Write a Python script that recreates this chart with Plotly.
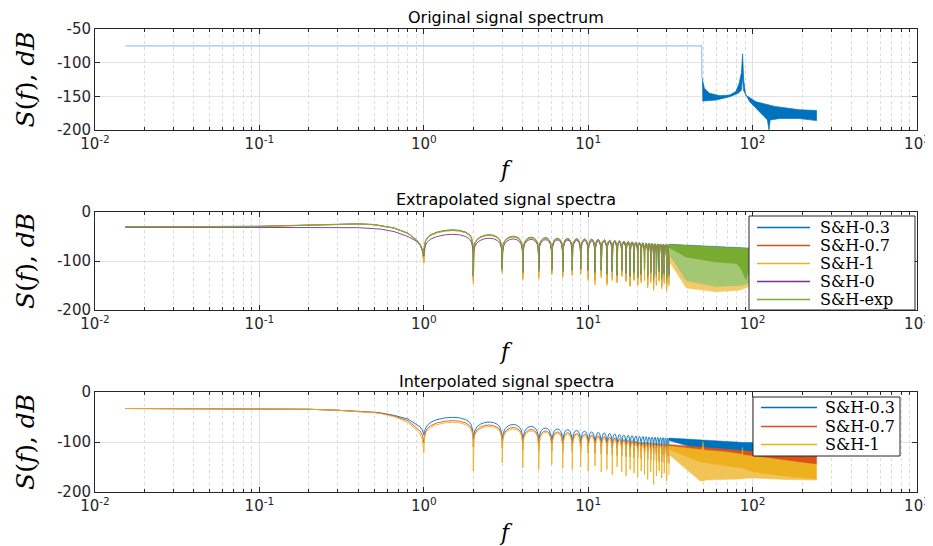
import plotly.graph_objects as go

# ---------------- axis ticks ----------------
decades = [0.01, 0.1, 1, 10, 100, 1000]
decade_labels = ["10<sup>-2</sup>", "10<sup>-1</sup>", "10<sup>0</sup>",
                 "10<sup>1</sup>", "10<sup>2</sup>", "10<sup>3</sup>"]
minor_vals = [m * d for d in decades[:-1] for m in range(2, 10)]
y1_ticks = [-200, -150, -100, -50]
y23_ticks = [-200, -100, 0]

# ---------------- panel 1 : original spectrum ----------------
orig_flat_f = [0.0153, 49.0, 49.2]
orig_flat_db = [-75, -75, -123]
orig_up_f = [49.3, 50.9, 54.6, 63.3, 72.7, 79.0, 82.8, 85.5, 86.9, 88.3, 90.6, 104.9, 136.5, 193.0, 245.0]
orig_up_db = [-123, -138, -145.5, -149, -148, -143, -131, -115, -87, -126, -148, -158, -165, -170, -171]
orig_lo_f = [49.5, 60.1, 72.7, 81.6, 85.5, 86.9, 88.0, 96.0, 110.7, 123.0, 125.8, 128.0, 146.0, 193.0, 245.0]
orig_lo_db = [-157, -155.5, -150.5, -145.5, -141, -120, -141, -158, -173, -185, -200, -185, -183, -183, -186]

# ---------------- lobe shape (offset from lobe peak, read from first lobes) ----------------
lobe_frac = [0.004, 0.01, 0.025, 0.05, 0.1, 0.2, 0.35, 0.5, 0.65, 0.8, 0.9, 0.95, 0.975, 0.99, 0.996]
lobe_drop = [-38, -30, -22, -16, -10, -4.6, -1, 0, -1, -4.6, -10, -16, -22, -30, -38]
null_f = list(range(1, 32))  # spectral nulls at integer frequencies

# ---------------- panel 2 : extrapolated spectra ----------------
main_f = [0.0153, 0.05, 0.1, 0.2, 0.3, 0.4, 0.5, 0.55, 0.66, 0.8, 0.9, 0.95, 0.98]

ext_main_sh03 = [-30.5, -30, -29, -26.5, -24.5, -24, -25.5, -27.5, -32.5, -43, -56.5, -65.5, -76]
ext_main_sh07 = [-31, -30.5, -29.5, -27, -25, -24.5, -26, -28, -33, -43.5, -57, -66, -77]
ext_main_sh1 = [-31, -30.5, -29.5, -27, -25, -24.5, -26, -28, -33, -43.5, -57.5, -67, -79]
ext_main_sh0 = [-31, -31, -31, -31, -31.5, -32, -34, -35, -40, -50, -59, -67, -78]
ext_main_exp = [-31, -30.5, -29.5, -27, -25, -24.5, -26, -28, -33, -43.5, -57, -66, -77]

ext_peak_sh03 = [-36.5, -46.5, -49.5, -51.5, -52.5, -53.5, -54, -54.5, -55, -55.5, -56, -56.5, -57.5, -58, -58.5,
                 -59.5, -60, -60.5, -61.5, -62, -62.5, -63, -63.5, -64, -64.5, -64.8, -65.1, -65.5, -65.8, -66.1]
ext_peak_sh07 = [-37.5, -47.5, -50.5, -52.5, -53.5, -54.5, -55, -55.5, -56, -56.5, -57, -57.5, -58.5, -59, -59.5,
                 -60.5, -61, -61.5, -62.5, -63, -63.5, -64, -64.5, -65, -65.5, -65.8, -66.1, -66.5, -66.8, -67.1]
ext_peak_sh1 = [-38, -48, -51, -53, -54, -55, -55.5, -56, -56.5, -57, -57.5, -58, -59, -59.5, -60,
                -61, -61.5, -62, -63, -63.5, -64, -64.5, -65, -65.5, -66, -66.3, -66.6, -67, -67.3, -67.6]
ext_peak_sh0 = [-45.5, -53.5, -55, -56, -56.5, -57, -57.5, -58, -58.5, -59, -59.5, -60, -60.5, -61, -61.5,
                -62, -62.5, -63, -63.5, -64, -64.5, -65, -65.5, -66, -66.5, -66.8, -67.1, -67.5, -67.8, -68.1]
ext_peak_exp = [-37, -47, -50, -52, -53, -54, -54.5, -55, -55.5, -56, -56.5, -57, -58, -58.5, -59,
                -60, -60.5, -61, -62, -62.5, -63, -63.5, -64, -64.5, -65, -65.3, -65.6, -66, -66.3, -66.6]

ext_null_sh03 = [-86, -128, -115, -120, -118, -117, -120, -118, -115, -120, -122, -118, -125, -120, -128, -120,
                 -124, -130, -122, -132, -126, -118, -128, -122, -132, -125, -120, -130, -124, -135, -126]
ext_null_sh07 = [-103, -140, -122, -135, -133, -126, -130, -128, -125, -135, -140, -130, -145, -135, -142, -130,
                 -140, -150, -138, -148, -140, -135, -150, -140, -155, -145, -138, -152, -142, -158, -148]
ext_null_sh1 = [-104, -147, -125, -139, -137, -128, -134, -130, -128, -140, -149, -135, -150, -140, -145, -132,
                -142, -152, -140, -150, -145, -140, -155, -145, -160, -150, -142, -157, -147, -162, -152]
ext_null_sh0 = [-90, -130, -116, -122, -120, -118, -121, -119, -116, -119, -123, -119, -126, -121, -129, -119,
                -125, -131, -123, -133, -127, -119, -130, -123, -134, -127, -121, -133, -125, -137, -129]
ext_null_exp = [-88, -133, -117, -125, -122, -120, -122, -120, -114, -118, -125, -120, -128, -122, -130, -118,
                -126, -132, -124, -135, -128, -120, -135, -125, -140, -130, -122, -138, -128, -145, -132]

ext_band_f = [31, 39.5, 60, 80, 86, 91, 95, 100]
ext_top_sh03 = [-65.8, -67.5, -70, -72, -72.5, -73, -73.5, -74]
ext_bot_sh03 = [-72, -88, -100, -103, -115, -135, -115, -105]
ext_top_sh07 = [-67.3, -69, -71.5, -73.5, -74, -74.5, -75, -75.5]
ext_bot_sh07 = [-72, -88, -100, -103, -115, -135, -115, -105]
ext_tip_sh07 = [-95, -150, -158, -156, -155, -150, -148, -145]
ext_top_sh1 = [-67.8, -69.5, -72, -74, -74.5, -75, -75.5, -76]
ext_bot_sh1 = [-72, -88, -100, -103, -115, -135, -115, -105]
ext_tip_sh1 = [-100, -155, -163, -160, -158, -155, -152, -148]
ext_top_sh0 = [-68.3, -70, -72.5, -74.5, -75, -75.5, -76, -76.5]
ext_bot_sh0 = [-74, -86, -96, -100, -112, -130, -112, -103]
ext_tip_sh0 = [-85, -130, -140, -140, -140, -138, -136, -135]
ext_top_exp = [-66.8, -68.5, -71, -73, -73.5, -74, -74.5, -75]
ext_bot_exp = [-72, -92, -102, -105, -118, -138, -118, -108]
ext_tip_exp = [-85, -140, -152, -150, -150, -148, -145, -142]

# ---------------- panel 3 : interpolated spectra ----------------
int_main_sh03 = [-33, -33, -33.5, -34.5, -36.5, -38, -40.5, -42, -46.7, -54, -64, -70, -76]
int_main_sh07 = [-33, -33, -33.5, -34.5, -36.5, -38.5, -41, -42.5, -48, -57.3, -70.7, -78, -86]
int_main_sh1 = [-33, -33, -33.5, -34.5, -36.5, -39, -41.5, -43.5, -49.5, -60.7, -75.3, -84, -95]

int_peak_sh03 = [-50.7, -60, -65, -69, -72, -74, -75.5, -77, -78.5, -80, -81, -82, -83, -84, -85,
                 -86, -86.5, -87.3, -88, -88.7, -89, -89.4, -89.8, -90.2, -90.5, -90.8, -91.1, -91.4, -91.7, -92]
int_peak_sh07 = [-57.3, -66, -71, -75, -78, -80, -81.5, -83, -84.5, -86, -87.5, -89, -90.5, -92, -93.5,
                 -95, -96, -97, -98.5, -100, -100.5, -101, -101.5, -102, -102.5, -103, -103.5, -104, -104.5, -105]
int_peak_sh1 = [-60.7, -69, -74, -78, -81, -83, -85, -86.5, -88, -89.5, -91, -92.5, -94, -95.5, -97,
                -98.5, -100, -101, -102.5, -104, -104.4, -104.8, -105.2, -105.6, -106, -106.4, -106.8, -107.2,
                -107.6, -108]

int_null_sh03 = [-86, -95, -98, -100, -102, -103, -104, -105, -106, -107, -108, -109, -110, -111, -112, -113,
                 -114, -115, -116, -117, -118, -119, -120, -121, -122, -123, -124, -125, -126, -127, -128]
int_null_sh07 = [-102, -110, -112, -115, -117, -118, -119, -120, -121, -122, -123, -124, -125, -126, -127, -128,
                 -129, -130, -131, -132, -133, -134, -135, -136, -137, -138, -139, -140, -141, -142, -143]
int_null_sh1 = [-122, -158, -142, -152, -155, -145, -153, -155, -150, -158, -148, -160, -155, -165, -150, -160,
                -168, -155, -162, -170, -158, -165, -175, -160, -185, -168, -158, -172, -162, -178, -165]

int_band_f = [31, 48, 49.3, 49.9, 50.5, 52, 70, 84, 86.1, 86.7, 87.3, 89, 100, 160, 245]
int_top_sh03 = [-92, -96, -96.3, -96.5, -96.7, -97, -99, -100, -100.3, -100.5, -100.7, -101, -101, -103, -105]
int_bot_sh03 = [-97, -115, -115, -115, -115, -116, -119, -122, -122, -122, -122, -123, -124, -127, -130]
int_top_sh07 = [-105, -110, -110.3, -110.5, -110.7, -111, -114, -117, -117.3, -117.5, -117.7, -118, -119, -122, -125]
int_bot_sh07 = [-110, -125, -125, -125, -125, -126, -130, -133, -133, -133, -133, -134, -138, -142, -145]
int_top_sh1 = [-108, -115, -115.5, -99, -116, -116.5, -120, -124, -124.5, -110.7, -125, -126, -128, -137, -145]
int_bot_sh1 = [-115, -140, -140, -140, -140, -141, -148, -152, -152, -152, -152, -154, -160, -169, -175]
int_tip_sh1 = [-125, -178, -178, -178, -178, -176, -175, -174, -174, -174, -174, -173, -172, -175, -176]

# ---------------- style ----------------
C_BLUE, C_ORANGE, C_YELLOW, C_PURPLE, C_GREEN = "#0072BD", "#D95319", "#EDB120", "#7E2F8E", "#77AC30"
AXC = "#262626"
TICK_FONT = dict(family="DejaVu Sans", size=15, color=AXC)
SERIF = "DejaVu Serif"
OFF = 8                 # the page puts the figure 8 px in from the window's top-left corner
W, H = 933 - OFF, 546 - OFF
X0, X1 = 95, 917        # window pixel columns of 10^-2 and 10^3
panels = [(29, 130), (212, 310), (392, 492)]   # window pixel rows of each axes box


def px(X):
    return (X - OFF) / W


def py(Y):
    return 1 - (Y - OFF) / H


def pale(hexc, a):
    h = hexc.lstrip("#")
    rgb = [int(h[i:i + 2], 16) for i in (0, 2, 4)]
    return "rgb(%d,%d,%d)" % tuple(round(255 - a * (255 - c)) for c in rgb)


def lobe_curve(m_f, m_db, n_db, p_db):
    xs, ys = list(m_f), list(m_db)
    for k, pk in enumerate(p_db):
        f0 = null_f[k]
        xs.append(f0)
        ys.append(n_db[k])
        for fr, dr in zip(lobe_frac, lobe_drop):
            floor = n_db[k] if fr < 0.5 else n_db[k + 1]
            xs.append(f0 + fr)
            ys.append(max(pk + dr, floor))
    xs.append(null_f[len(p_db)])
    ys.append(n_db[len(p_db)])
    return xs, ys


fig = go.Figure()


def add_band(f, top, bot, color, xa, ya):
    fig.add_trace(go.Scatter(
        x=list(f) + list(f)[::-1], y=list(top) + list(bot)[::-1],
        mode="lines", fill="toself", fillcolor=color,
        line=dict(color=color, width=0.5),
        showlegend=False, hoverinfo="skip", xaxis=xa, yaxis=ya))


def add_series(name, color, m_f, m_db, n_db, p_db, band_f, top, bot, tip, alpha, xa, ya):
    if tip is not None:
        add_band(band_f, bot, tip, pale(color, alpha), xa, ya)
    xs, ys = lobe_curve(m_f, m_db, n_db, p_db)
    fig.add_trace(go.Scatter(x=xs, y=ys, mode="lines", name=name,
                             line=dict(color=color, width=0.9),
                             showlegend=False, xaxis=xa, yaxis=ya))
    add_band(band_f, top, bot, color, xa, ya)


# panel 1
fig.add_trace(go.Scatter(x=orig_flat_f, y=orig_flat_db, mode="lines", name="original",
                         line=dict(color="#9cc7e8", width=1.3), showlegend=False,
                         xaxis="x", yaxis="y"))
fig.add_trace(go.Scatter(x=orig_up_f + orig_lo_f[::-1], y=orig_up_db + orig_lo_db[::-1],
                         mode="lines", fill="toself", fillcolor=C_BLUE,
                         line=dict(color=C_BLUE, width=0.7), showlegend=False,
                         xaxis="x", yaxis="y"))

# panel 2
ext_series = [
    ("S&H-0.3", C_BLUE, ext_main_sh03, ext_null_sh03, ext_peak_sh03, ext_top_sh03, ext_bot_sh03, None),
    ("S&H-0.7", C_ORANGE, ext_main_sh07, ext_null_sh07, ext_peak_sh07, ext_top_sh07, ext_bot_sh07, ext_tip_sh07),
    ("S&H-1", C_YELLOW, ext_main_sh1, ext_null_sh1, ext_peak_sh1, ext_top_sh1, ext_bot_sh1, ext_tip_sh1),
    ("S&H-0", C_PURPLE, ext_main_sh0, ext_null_sh0, ext_peak_sh0, ext_top_sh0, ext_bot_sh0, ext_tip_sh0),
    ("S&H-exp", C_GREEN, ext_main_exp, ext_null_exp, ext_peak_exp, ext_top_exp, ext_bot_exp, ext_tip_exp),
]
for nm, c, md, nd, pd, tp, bt, tip in ext_series:
    add_series(nm, c, main_f, md, nd, pd, ext_band_f, tp, bt, tip, 0.68, "x2", "y2")

# panel 3
int_series = [
    ("S&H-0.3", C_BLUE, int_main_sh03, int_null_sh03, int_peak_sh03, int_top_sh03, int_bot_sh03, None),
    ("S&H-0.7", C_ORANGE, int_main_sh07, int_null_sh07, int_peak_sh07, int_top_sh07, int_bot_sh07, None),
    ("S&H-1", C_YELLOW, int_main_sh1, int_null_sh1, int_peak_sh1, int_top_sh1, int_bot_sh1, int_tip_sh1),
]
for nm, c, md, nd, pd, tp, bt, tip in int_series:
    add_series(nm, c, main_f, md, nd, pd, int_band_f, tp, bt, tip, 0.75, "x3", "y3")


def xaxis_cfg(anchor):
    return dict(type="log", range=[-2, 3], domain=[px(X0), px(X1)], anchor=anchor, automargin=False,
                tickvals=decades, ticktext=decade_labels, tickfont=TICK_FONT,
                ticks="inside", ticklen=5, tickcolor=AXC, showline=True, linecolor=AXC,
                linewidth=1, mirror="ticks", showgrid=True, gridcolor="#e0e0e0", gridwidth=1,
                zeroline=False,
                minor=dict(tickvals=minor_vals, ticks="inside", ticklen=3, tickcolor=AXC,
                           showgrid=True, gridcolor="#dadada", griddash="dot", gridwidth=1))


def yaxis_cfg(anchor, rng, tv, pan):
    return dict(range=rng, domain=[py(pan[1]), py(pan[0])], anchor=anchor, tickvals=tv, automargin=False,
                ticktext=[str(v) for v in tv], tickfont=TICK_FONT,
                ticks="inside", ticklen=5, tickcolor=AXC, showline=True, linecolor=AXC,
                linewidth=1, mirror="ticks", showgrid=True, gridcolor="#e3e3e3",
                zeroline=False)


annotations = []
shapes = []
titles = ["Original signal spectrum", "Extrapolated signal spectra", "Interpolated signal spectra"]
title_y = [17, 199, 381]
xlab_y = [169, 351, 532]
for t, ty, xy, (pt, pb) in zip(titles, title_y, xlab_y, panels):
    annotations.append(dict(text=t, x=px((X0 + X1) / 2), y=py(ty), xref="paper", yref="paper",
                            showarrow=False, xanchor="center", yanchor="middle",
                            font=dict(family="DejaVu Sans", size=16, color="black")))
    annotations.append(dict(text="<i>f</i>", x=px((X0 + X1) / 2), y=py(xy), xref="paper",
                            yref="paper", showarrow=False, xanchor="center", yanchor="middle",
                            font=dict(family=SERIF, size=22, color="black")))
    annotations.append(dict(text="<i>S</i>(<i>f</i>), <i>dB</i>", x=px(25), y=py((pt + pb) / 2),
                            xref="paper", yref="paper", showarrow=False, textangle=-90,
                            xanchor="center", yanchor="middle",
                            font=dict(family=SERIF, size=25, color="black")))

# legends drawn as boxed keys (line sample + label) inside the two lower panels
legend_boxes = [
    ((749, 915, 216, 310), [s[0] for s in ext_series], [s[1] for s in ext_series],
     [227.5, 245.5, 263.5, 281.5, 299.5], (757, 810), 818),
    ((753, 900, 397, 456), [s[0] for s in int_series], [s[1] for s in int_series],
     [407.5, 426.5, 444.5], (761, 817), 823),
]
for (bx0, bx1, by0, by1), names, colors, rows, (lx0, lx1), tx in legend_boxes:
    shapes.append(dict(type="rect", xref="paper", yref="paper", layer="above",
                       x0=px(bx0), x1=px(bx1), y0=py(by1), y1=py(by0),
                       fillcolor="white", line=dict(color=AXC, width=1)))
    for nm, c, ry in zip(names, colors, rows):
        shapes.append(dict(type="line", xref="paper", yref="paper", layer="above",
                           x0=px(lx0), x1=px(lx1), y0=py(ry), y1=py(ry),
                           line=dict(color=c, width=1.3)))
        annotations.append(dict(text=nm, x=px(tx), y=py(ry), xref="paper", yref="paper",
                                showarrow=False, xanchor="left", yanchor="middle",
                                font=dict(family=SERIF, size=16, color="black")))

fig.update_layout(
    width=W, height=H, margin=dict(l=0, r=0, t=0, b=0, autoexpand=False),
    paper_bgcolor="white", plot_bgcolor="white", showlegend=False,
    xaxis=xaxis_cfg("y"), yaxis=yaxis_cfg("x", [-200, -50], y1_ticks, panels[0]),
    xaxis2=xaxis_cfg("y2"), yaxis2=yaxis_cfg("x2", [-200, 0], y23_ticks, panels[1]),
    xaxis3=xaxis_cfg("y3"), yaxis3=yaxis_cfg("x3", [-200, 0], y23_ticks, panels[2]),
    annotations=annotations, shapes=shapes,
    hovermode=False,
)

fig.write_html("out.html")
